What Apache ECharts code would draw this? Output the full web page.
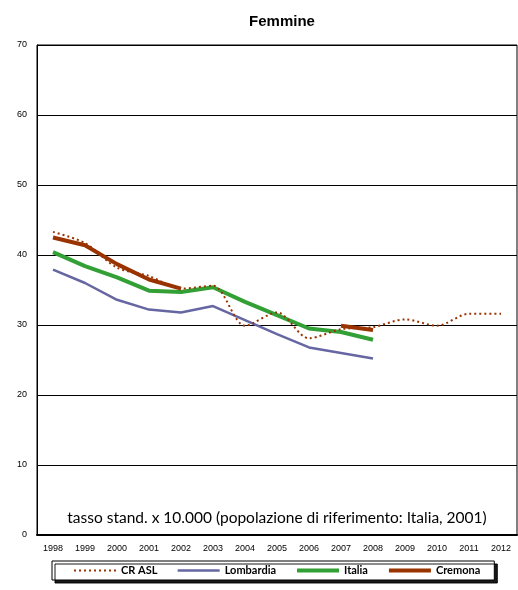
<!DOCTYPE html>
<html>
<head>
<meta charset="utf-8">
<script src="https://cdn.jsdelivr.net/npm/echarts@6/dist/echarts.min.js"></script>
<style>
  html, body { margin: 0; padding: 0; background: #fff; }
  #chart { width: 518px; height: 590px; }
</style>
</head>
<body>
<div id="chart"></div>
<script>
// Years on the category axis
const years = ['1998','1999','2000','2001','2002','2003','2004','2005','2006','2007','2008','2009','2010','2011','2012'];

// Standardised rates x 10,000 (women)
const crAsl     = [43.3, 41.7, 38.2, 37.0, 35.2, 35.6, 29.9, 31.8, 28.1, 29.4, 29.7, 30.8, 29.9, 31.6, 31.6];
const lombardia = [37.9, 36.0, 33.6, 32.2, 31.8, 32.7, 30.7, 28.7, 26.8, 26.0, 25.2, null, null, null, null];
const italia    = [40.4, 38.4, 36.8, 34.9, 34.7, 35.4, 33.3, 31.4, 29.5, 29.0, 27.9, null, null, null, null];
const cremona   = [42.5, 41.4, 38.7, 36.5, 35.2, null, null, null, null, 29.9, 29.3, null, null, null, null];

const yTicks = [0, 10, 20, 30, 40, 50, 60, 70];

const chart = echarts.init(document.getElementById('chart'), null, { renderer: 'canvas' });

const brown = '#993300';

chart.setOption({
  animation: false,
  backgroundColor: '#fff',
  title: {
    text: 'Femmine',
    left: 277,
    textAlign: 'center',
    top: 9,
    textStyle: { fontFamily: 'Liberation Sans, Arial', fontWeight: 'bold', fontSize: 15, color: '#000' }
  },
  grid: {
    left: 37, right: 1, top: 45, bottom: 55,
    show: true, borderColor: '#000', borderWidth: 1, backgroundColor: 'transparent'
  },
  legend: {
    bottom: 10,
    left: 52,
    padding: [4, 14, 4, 21],
    itemGap: 19,
    itemWidth: 42,
    itemHeight: 10,
    backgroundColor: '#fff',
    borderColor: '#000',
    borderWidth: 1,
    shadowColor: 'rgba(0,0,0,0.9)',
    shadowOffsetX: 3,
    shadowOffsetY: 3,
    shadowBlur: 0,
    itemStyle: { opacity: 0 },
    textStyle: { fontFamily: 'Lato, Open Sans', fontWeight: 'bold', fontSize: 11, color: '#000' },
    data: [
      { name: 'CR ASL', lineStyle: { width: 2 } },
      { name: 'Lombardia', lineStyle: { width: 2.5 } },
      { name: 'Italia', lineStyle: { width: 4 } },
      { name: 'Cremona', lineStyle: { width: 4 } }
    ]
  },
  xAxis: {
    type: 'category',
    data: years,
    boundaryGap: true,
    axisLine: { lineStyle: { color: '#000', width: 2 } },
    axisTick: { show: false },
    axisLabel: { fontFamily: 'Liberation Sans, Arial', fontSize: 9, color: '#000', margin: 9 },
    splitLine: { show: false }
  },
  yAxis: {
    type: 'value',
    min: yTicks[0],
    max: yTicks[yTicks.length - 1],
    interval: 10,
    axisLine: { show: true, lineStyle: { color: '#000', width: 1 } },
    axisTick: { show: false },
    axisLabel: { fontFamily: 'Liberation Sans, Arial', fontSize: 9, color: '#000', margin: 10 },
    splitLine: { show: true, lineStyle: { color: '#000', width: 1 } }
  },
  graphic: [{
    type: 'text',
    x: 277,
    y: 518,
    style: {
      text: 'tasso stand. x 10.000 (popolazione di riferimento: Italia, 2001)',
      fontFamily: 'Lato, Open Sans',
      fontSize: 15.5,
      fill: '#000',
      align: 'center',
      verticalAlign: 'middle'
    }
  }],
  series: [
    {
      name: 'CR ASL', type: 'line', data: crAsl, symbol: 'none', smooth: 0.3,
      lineStyle: { color: brown, width: 2, type: [2, 3] }, itemStyle: { color: brown }, z: 5
    },
    {
      name: 'Lombardia', type: 'line', data: lombardia, symbol: 'none',
      lineStyle: { color: '#6666a3', width: 2.5 }, itemStyle: { color: '#6666a3' }, z: 2
    },
    {
      name: 'Italia', type: 'line', data: italia, symbol: 'none',
      lineStyle: { color: '#33a035', width: 4 }, itemStyle: { color: '#33a035' }, z: 3
    },
    {
      name: 'Cremona', type: 'line', data: cremona, symbol: 'none',
      lineStyle: { color: brown, width: 4 }, itemStyle: { color: brown }, z: 4
    }
  ]
});
</script>
</body>
</html>
